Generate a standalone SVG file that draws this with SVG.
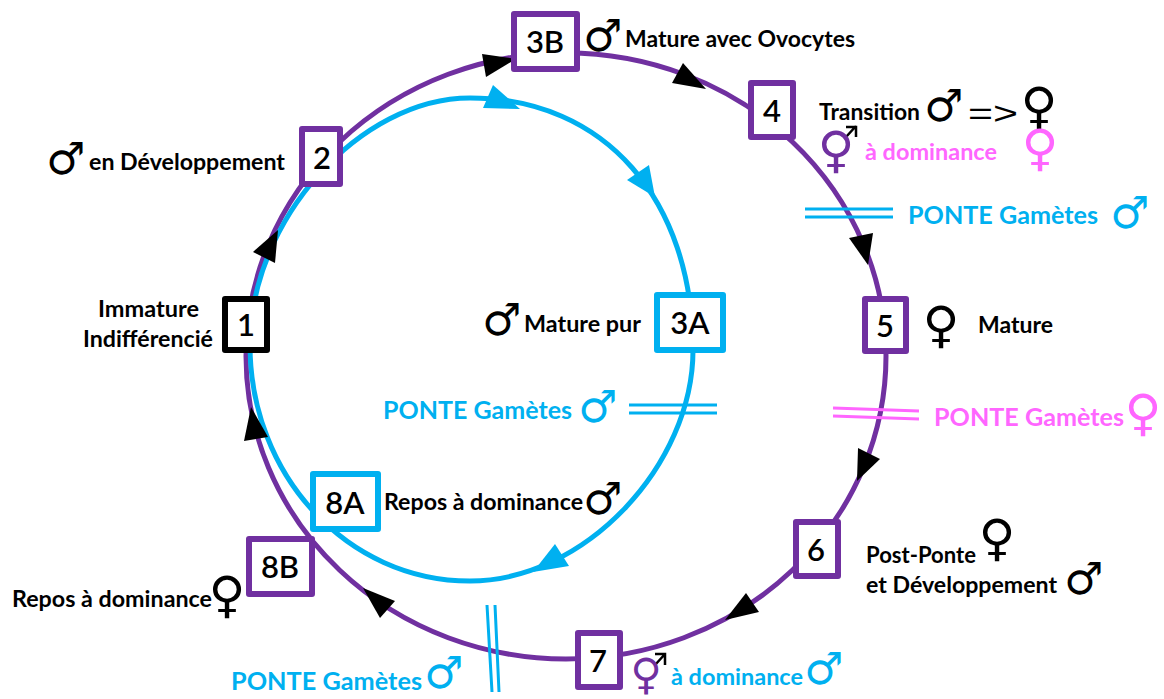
<svg xmlns="http://www.w3.org/2000/svg" width="1164" height="699" viewBox="0 0 1164 699">
<style>
text{font-family:"Lato","Carlito","Liberation Sans",sans-serif;font-weight:700;fill:#000}
.k{font-size:22px}
.p{font-size:25.500px;fill:#00B0F0}
.pk{fill:#FF66FF}
.bl{fill:#00B0F0}
.n{font-size:31px;font-weight:600;text-anchor:middle}
.s{font-family:"DejaVu Sans",sans-serif;font-weight:400;font-size:44px;text-anchor:middle}
.f{font-size:50px}
.box{fill:#fff;stroke-width:6;stroke-linejoin:round}
.pu{stroke:#7030A0}.cy{stroke:#00B0F0}.bk{stroke:#000}
.ring{fill:none;stroke-width:5}
.dbl{fill:none;stroke-width:3}
.hb{fill:#000}.hc{fill:#00B0F0}
</style>
<rect width="1164" height="699" fill="#fff"/>
<g id="connectors">
<ellipse class="ring pu" cx="566" cy="356" rx="320" ry="303"/>
<path class="ring cy" d="M250 345C250 220 360 98 470 98C605 98 693 200 693 350C693 465 585 581 470 581C347 581 250 475 250 345Z"/>
<g class="hb">
<polygon points="278,230 275,263 253,252"/>
<polygon points="482,54 516,59 486,77"/>
<polygon points="683,63 706,89 672,83"/>
<polygon points="849,238 873,233 868,265"/>
<polygon points="858,448 880,459 857,481"/>
<polygon points="746,593 759,612 725,620"/>
<polygon points="363,588 395,601 380,618"/>
<polygon points="251,407 268,437 244,441"/>
</g>
<g class="hc">
<polygon points="493,85 520,109 483,108"/>
<polygon points="649,165 655,197 627,180"/>
<polygon points="555,544 569,566 533,572"/>
</g>
<path class="dbl cy" d="M805 209H893M805 217H893M629 405H717M629 413H717M487 605L492 692M495 605L499 692"/>
<path class="dbl" stroke="#FF66FF" d="M833 408L919 411M833 416L919 419"/>
</g>
<g id="node-1"><rect class="box bk" x="225" y="299" width="42" height="51"/><text class="n" x="246" y="336">1</text>
<text class="k" x="98" y="317" textLength="101" lengthAdjust="spacingAndGlyphs">Immature</text>
<text class="k" x="83" y="347" textLength="130" lengthAdjust="spacingAndGlyphs">Indifférencié</text></g>
<g id="node-2"><rect class="box pu" x="302" y="129" width="38" height="55"/><text class="n" x="322" y="169">2</text>
<text class="s" x="66" y="174">♂</text>
<text class="k" x="89" y="170" textLength="196" lengthAdjust="spacingAndGlyphs">en Développement</text></g>
<g id="node-3B"><rect class="box pu" x="514" y="14" width="63" height="55"/><text class="n" x="545" y="53">3B</text>
<text class="s" x="603" y="51">♂</text>
<text class="k" x="625" y="47" textLength="230" lengthAdjust="spacingAndGlyphs">Mature avec Ovocytes</text></g>
<g id="node-3A"><rect class="box cy" x="657" y="295" width="66" height="55"/><text class="n" x="690" y="334">3A</text>
<text class="s" x="502" y="335">♂</text>
<text class="k" x="524" y="332" textLength="117" lengthAdjust="spacingAndGlyphs">Mature pur</text>
<text class="p" x="383" y="419" textLength="189" lengthAdjust="spacingAndGlyphs">PONTE Gamètes</text>
<text class="s bl" x="598" y="422">♂</text></g>
<g id="node-4"><rect class="box pu" x="751" y="83" width="42" height="54"/><text class="n" x="772" y="122">4</text>
<text class="k" x="819" y="120" textLength="101" lengthAdjust="spacingAndGlyphs">Transition</text>
<text class="s" x="944" y="121">♂</text>
<text x="968" y="124" style="font-family:'Liberation Sans',sans-serif;font-weight:400;font-size:32px" textLength="50" lengthAdjust="spacingAndGlyphs">=&gt;</text>
<text class="s f" x="1039" y="123">♀</text>
<path d="M846 137L856 126M846 127H856V137" fill="none" stroke="#000" stroke-width="2.500"/>
<text class="s f" x="836" y="167" style="fill:#7030A0">♀</text>
<text class="k pk" x="865" y="160" textLength="132" lengthAdjust="spacingAndGlyphs">à dominance</text>
<text class="s f pk" x="1040" y="165">♀</text>
<text class="p" x="908" y="224" textLength="190" lengthAdjust="spacingAndGlyphs">PONTE Gamètes</text>
<text class="s bl" x="1130" y="228">♂</text></g>
<g id="node-5"><rect class="box pu" x="865" y="299" width="41" height="52"/><text class="n" x="885" y="337">5</text>
<text class="s f" x="941" y="342">♀</text>
<text class="k" x="978" y="333" textLength="75" lengthAdjust="spacingAndGlyphs">Mature</text>
<text class="p pk" x="934" y="426" textLength="190" lengthAdjust="spacingAndGlyphs">PONTE Gamètes</text>
<text class="s f pk" x="1143" y="430">♀</text></g>
<g id="node-6"><rect class="box pu" x="796" y="522" width="42" height="54"/><text class="n" x="816" y="561">6</text>
<text class="k" x="866" y="563" textLength="110" lengthAdjust="spacingAndGlyphs">Post-Ponte</text>
<text class="k" x="866" y="593" textLength="191" lengthAdjust="spacingAndGlyphs">et Développement</text>
<text class="s f" x="997" y="555">♀</text>
<text class="s" x="1084" y="594">♂</text></g>
<g id="node-7"><rect class="box pu" x="578" y="633" width="42" height="54"/><text class="n" x="598" y="672">7</text>
<path d="M655 665L665 654M655 654H665V665" fill="none" stroke="#000" stroke-width="2.500"/>
<text class="s" x="646" y="688.500" style="fill:#7030A0;font-size:43px">♀</text>
<text class="k bl" x="671" y="685" textLength="132" lengthAdjust="spacingAndGlyphs">à dominance</text>
<text class="s bl" x="824" y="684">♂</text>
<text class="p" x="231" y="690" textLength="191" lengthAdjust="spacingAndGlyphs">PONTE Gamètes</text>
<text class="s bl" x="444" y="688">♂</text></g>
<g id="node-8A"><rect class="box cy" x="313" y="474" width="65" height="55"/><text class="n" x="345" y="514">8A</text>
<text class="k" x="384" y="510" textLength="199" lengthAdjust="spacingAndGlyphs">Repos à dominance</text>
<text class="s" x="603" y="514">♂</text></g>
<g id="node-8B"><rect class="box pu" x="249" y="539" width="63" height="55"/><text class="n" x="280" y="578">8B</text>
<text class="k" x="12" y="607" textLength="200" lengthAdjust="spacingAndGlyphs">Repos à dominance</text>
<text class="s f" x="227" y="612">♀</text></g>
</svg>
